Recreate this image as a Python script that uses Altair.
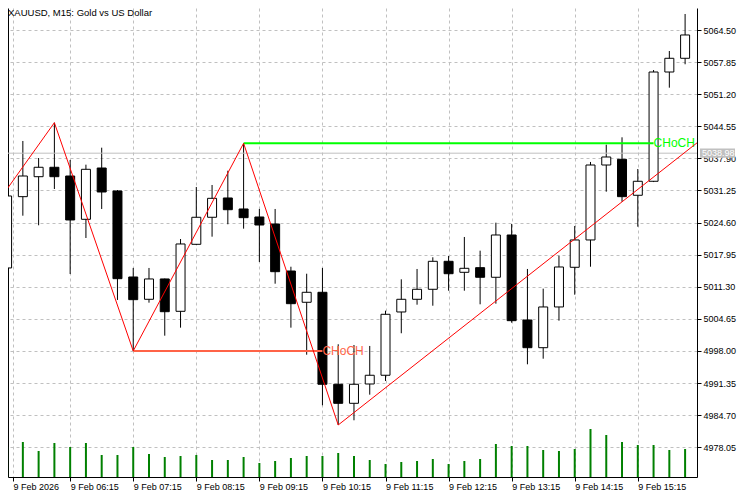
import altair as alt
import pandas as pd

# ---------------- data ----------------
times = ["05:15", "05:30", "05:45", "06:00", "06:15", "06:30", "06:45", "07:00", "07:15", "07:30",
         "07:45", "08:00", "08:15", "08:30", "08:45", "09:00", "09:15", "09:30", "09:45", "10:00",
         "10:15", "10:30", "10:45", "11:00", "11:15", "11:30", "11:45", "12:00", "12:15", "12:30",
         "12:45", "13:00", "13:15", "13:30", "13:45", "14:00", "14:15", "14:30", "14:45", "15:00",
         "15:15", "15:30", "15:45", "16:00"]
opens = [5015.20, 5029.97, 5034.11, 5036.06, 5034.25, 5025.28, 5035.91, 5031.15, 5013.33, 5008.71,
         5012.92, 5006.22, 5020.10, 5025.70, 5029.70, 5027.42, 5025.76, 5024.31, 5014.57, 5008.09,
         5010.16, 4991.10, 4987.16, 4991.16, 4992.97, 5006.08, 5008.71, 5010.78, 5016.58, 5014.30,
         5015.26, 5013.27, 5022.03, 5004.42, 4998.68, 5007.12, 5015.34, 5021.00, 5036.53, 5037.71,
         5030.26, 5033.16, 5055.80, 5058.64]
highs = [5030.60, 5041.51, 5037.98, 5045.30, 5037.57, 5036.60, 5040.12, 5031.35, 5015.20, 5015.20,
         5013.00, 5021.20, 5031.98, 5032.39, 5035.35, 5041.03, 5027.42, 5027.42, 5015.46, 5014.01,
         5015.20, 4999.39, 4999.24, 4999.04, 5006.35, 5012.85, 5014.99, 5017.41, 5017.68, 5021.62,
         5018.78, 5024.58, 5024.31, 5014.99, 5010.91, 5017.74, 5023.90, 5037.16, 5040.74, 5042.27,
         5035.70, 5056.21, 5060.15, 5067.82]
lows = [5015.00, 5026.03, 5024.04, 5031.56, 5013.95, 5021.41, 5027.42, 5008.57, 4998.00, 5008.01,
        5001.17, 5002.83, 5019.95, 5021.68, 5024.25, 5023.34, 5016.44, 5011.94, 5002.83, 4997.23,
        4986.75, 4982.67, 4983.64, 4988.95, 4991.79, 5001.67, 5007.59, 5007.38, 5010.49, 5010.49,
        5007.67, 5007.80, 5003.86, 4995.24, 4996.40, 5004.28, 5009.66, 5015.46, 5031.00, 5028.93,
        5023.75, 5033.00, 5052.55, 5057.40]
closes = [5030.11, 5034.25, 5036.06, 5034.11, 5025.14, 5035.64, 5030.94, 5012.98, 5008.63, 5012.92,
          5006.14, 5020.17, 5025.70, 5029.63, 5027.27, 5025.62, 5024.10, 5014.43, 5007.80, 5010.16,
          4991.10, 4987.16, 4991.10, 4992.97, 5005.60, 5008.71, 5010.78, 5016.58, 5014.01, 5015.13,
          5013.27, 5022.03, 5004.28, 4998.68, 5007.12, 5015.40, 5021.00, 5036.53, 5038.19, 5029.97,
          5033.16, 5055.80, 5058.64, 5063.47]
volumes = [1500, 1750, 1300, 1700, 1500, 1700, 1100, 1100, 1500, 1150,
           1000, 1050, 1100, 850, 850, 1000, 700, 800, 950, 1050,
           1050, 1200, 1050, 850, 650, 750, 800, 900, 650, 800,
           900, 1650, 1550, 1550, 1350, 1300, 1400, 2400, 2100, 1750,
           1600, 1600, 1350, 1400]

zigzag_times = ["05:15", "06:00", "07:15", "09:00", "10:30", "16:15"]
zigzag_prices = [5031.56, 5045.30, 4998.00, 5041.03, 4982.67, 5041.75]

choch_start = ["07:15", "09:00"]
choch_end = ["10:15", "15:30"]
choch_price = [4998.00, 5041.03]
choch_color = ["#ff6347", "#00ff00"]

current_price = 5038.98
y_tick_labels = ["4978.05", "4984.70", "4991.35", "4998.00", "5004.65", "5011.30", "5017.95",
                 "5024.60", "5031.25", "5037.90", "5044.55", "5051.20", "5057.85", "5064.50"]
x_tick_times = ["06:15", "07:15", "08:15", "09:15", "10:15", "11:15", "12:15", "13:15", "14:15", "15:15"]
chart_title = "XAUUSD, M15:  Gold vs US Dollar"

# ---------------- helpers ----------------
def to_min(t):
    h, m = t.split(":")
    return int(h) * 60 + int(m)

X_LO, X_HI = 320.625, 966.5625
Y_LO, Y_HI = 4971.89, 5069.06
VOL_FULL = 23450  # volume value that would fill the whole plot height
FONT = "Liberation Sans"

candles = pd.DataFrame({
    "t": [to_min(t) for t in times],
    "open": opens, "high": highs, "low": lows, "close": closes, "vol": volumes,
})
candles["dir"] = ["up" if c >= o else "down" for o, c in zip(opens, closes)]

zz = pd.DataFrame({"t": [to_min(t) for t in zigzag_times], "p": zigzag_prices})
levels = pd.DataFrame({
    "t": [to_min(t) for t in choch_start],
    "t2": [to_min(t) for t in choch_end],
    "p": choch_price,
    "c": choch_color,
    "label": ["CHoCH", "CHoCH"],
})
cur = pd.DataFrame({"p": [current_price], "label": [f"{current_price:.2f}"]})
ttl = pd.DataFrame({"label": [chart_title]})

xscale = alt.Scale(domain=[X_LO, X_HI], nice=False, zero=False)
yscale = alt.Scale(domain=[Y_LO, Y_HI], nice=False, zero=False)

x_axis = alt.Axis(
    values=[X_LO] + [to_min(t) for t in x_tick_times],
    labelExpr="datum.value < 330 ? '9 Feb 2026' : '9 Feb ' + format(floor(datum.value / 60), '02d') + ':' + format(datum.value % 60, '02d')",
    grid=True, gridDash=[3, 3], gridColor="#c0c0c0", gridWidth=1,
    tickSize=4, tickColor="black", domainColor="black", domainWidth=1,
    labelFont=FONT, labelFontSize=9, labelColor="black",
    labelAlign="left", labelBaseline="top", labelPadding=1,
    labelFlush=False, labelOverlap=False, labelBound=False, title=None, orient="bottom",
)
y_axis = alt.Axis(
    orient="right", values=[float(v) for v in y_tick_labels],
    labelExpr="format(datum.value, '.2f')",
    grid=True, gridDash=[3, 3], gridColor="#c0c0c0", gridWidth=1,
    tickSize=4, tickColor="black", domainColor="black", domainWidth=1,
    labelFont=FONT, labelFontSize=9, labelColor="black", labelPadding=2,
    labelAlign="left", labelBaseline="middle",
    labelFlush=False, labelOverlap=False, labelBound=False, title=None,
)
left_axis = alt.Axis(orient="left", labels=False, ticks=False, grid=False,
                     domainColor="black", domainWidth=1, title=None)


def Y(field):
    return alt.Y(field, scale=yscale, axis=None)


wicks = alt.Chart(candles).mark_rule(color="black", strokeWidth=1, clip=True).encode(
    x=alt.X("t:Q", scale=xscale, axis=x_axis),
    y=alt.Y("low:Q", scale=yscale, axis=y_axis),
    y2="high:Q",
)
vol = alt.Chart(candles).transform_calculate(
    vbase=f"{Y_LO}",
    vtop=f"{Y_LO} + datum.vol * ({Y_HI} - {Y_LO}) / {VOL_FULL}",
).mark_rule(color="#008000", strokeWidth=2, clip=True).encode(
    x=alt.X("t:Q", scale=xscale),
    y=alt.Y("vbase:Q", scale=yscale, axis=left_axis),
    y2="vtop:Q",
)
bodies = alt.Chart(candles).mark_bar(size=9, stroke="black", strokeWidth=1, clip=True).encode(
    x=alt.X("t:Q", scale=xscale),
    y=Y("open:Q"),
    y2="close:Q",
    fill=alt.Fill("dir:N", scale=alt.Scale(domain=["up", "down"], range=["white", "black"]), legend=None),
)
cur_line = alt.Chart(cur).mark_rule(color="#c0c0c0", strokeWidth=1).encode(
    y=Y("p:Q"),
)
level_lines = alt.Chart(levels).mark_rule(strokeWidth=2, clip=True).encode(
    x=alt.X("t:Q", scale=xscale), x2="t2:Q",
    y=Y("p:Q"),
    color=alt.Color("c:N", scale=None),
)
level_text = alt.Chart(levels).mark_text(
    align="left", baseline="middle", font=FONT, fontSize=12, clip=True
).encode(
    x=alt.X("t2:Q", scale=xscale),
    y=Y("p:Q"),
    text="label:N",
    color=alt.Color("c:N", scale=None),
)
zigzag = alt.Chart(zz).mark_line(color="#ff0000", strokeWidth=1, clip=True).encode(
    x=alt.X("t:Q", scale=xscale),
    y=Y("p:Q"),
)
price_box = alt.Chart(cur).transform_calculate(
    lo="datum.p - 0.95", hi="datum.p + 0.95"
).mark_rect(color="#c0c0c0").encode(
    x=alt.value(692), x2=alt.value(727),
    y=Y("lo:Q"), y2="hi:Q",
)
price_text = alt.Chart(cur).mark_text(
    align="left", baseline="middle", color="white", font=FONT, fontSize=9
).encode(
    x=alt.value(694),
    y=Y("p:Q"),
    text="label:N",
)
title_text = alt.Chart(ttl).mark_text(
    align="left", baseline="top", color="black", font=FONT, fontSize=9.5
).encode(x=alt.value(0), y=alt.value(0), text="label:N")

chart = alt.layer(
    wicks, vol, cur_line, bodies, level_lines, level_text, zigzag, price_box, price_text, title_text
).resolve_axis(y="independent").properties(
    width=689, height=469,
    autosize=alt.AutoSizeParams(type="none"),
    padding={"left": 0, "top": 0, "right": 45, "bottom": 15},
    background="white",
).configure(font=FONT).configure_view(stroke=None)

chart.save("out.html", embed_options={"renderer": "svg", "actions": False})
